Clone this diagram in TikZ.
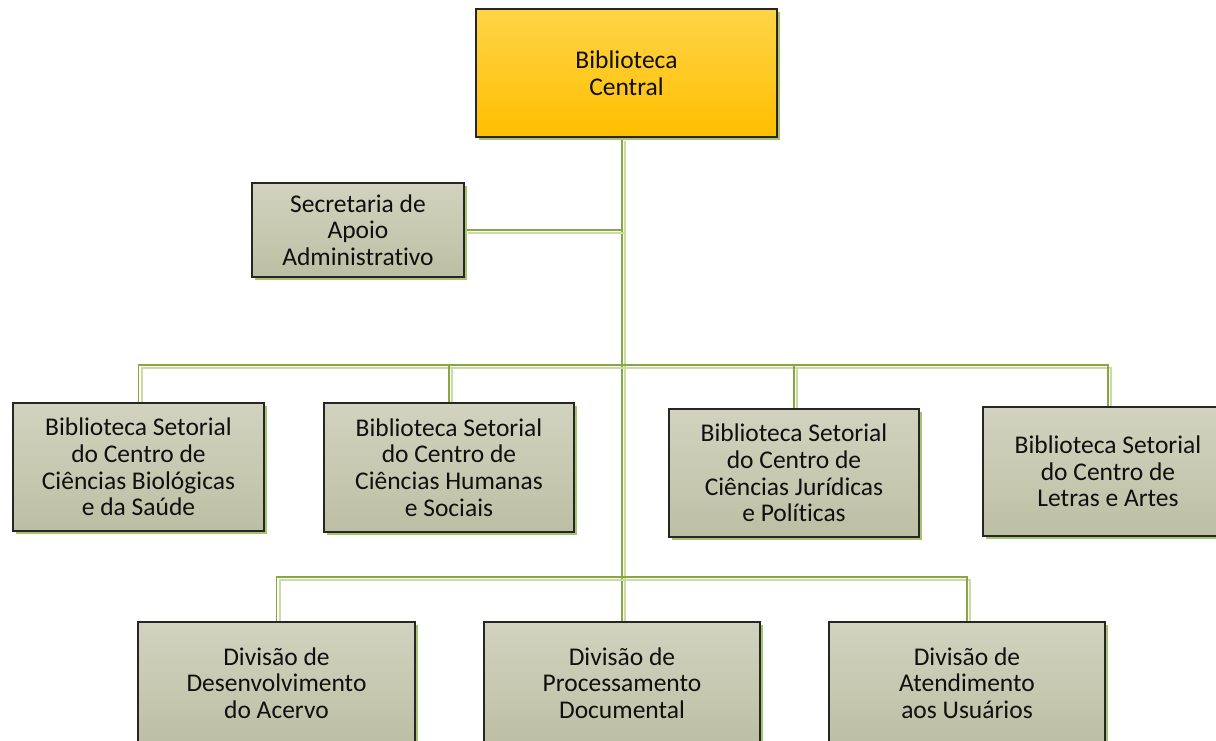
\documentclass[tikz,border=0pt]{standalone}
\usepackage{fontspec}
\setmainfont[Ligatures=NoCommon]{Carlito}
\usetikzlibrary{shadows,backgrounds}
\definecolor{conndark}{HTML}{86A93F}
\definecolor{connlight}{HTML}{CADCA4}
\definecolor{boxsh}{HTML}{A6C46E}
\definecolor{boxtop}{HTML}{D1D3BF}
\definecolor{boxbot}{HTML}{BDBFA4}
\definecolor{centtop}{HTML}{FFD448}
\definecolor{centbot}{HTML}{FFBF00}
\definecolor{txt}{HTML}{101010}
\tikzset{
  unit/.style={draw=black!85, line width=1.1pt, align=center, text=txt,
    font=\fontsize{25.5pt}{26.6pt}\selectfont, inner sep=0pt,
    top color=boxtop, bottom color=boxbot,
    drop shadow={shadow xshift=3pt, shadow yshift=-3pt, fill=boxsh, opacity=1}},
  central/.style={unit, top color=centtop, bottom color=centbot},
  conndark/.style={draw=conndark, line width=1.4pt},
  connlight/.style={draw=connlight, line width=2pt}
}
\newcommand\orgline[1]{%
  \begin{scope}[transform canvas={shift={(3pt,-3pt)}}]\draw[connlight] #1;\end{scope}%
  \draw[conndark] #1;}
\begin{document}
\begin{tikzpicture}[x=1pt,y=-1pt]
\useasboundingbox (0,0) rectangle (1216,741);
\node[central, minimum width=301pt, minimum height=128pt] (cent) at (626.5,73) {Biblioteca\\Central};
\node[unit, minimum width=212pt, minimum height=94pt] (sec) at (358,230) {Secretaria de\\Apoio\\Administrativo};
\node[unit, minimum width=251pt, minimum height=128pt] (b1) at (138.5,467) {Biblioteca Setorial\\do Centro de\\Ciências Biológicas\\e da Saúde};
\node[unit, minimum width=250pt, minimum height=129pt] (b2) at (449,467.5) {Biblioteca Setorial\\do Centro de\\Ciências Humanas\\e Sociais};
\node[unit, minimum width=250pt, minimum height=128pt] (b3) at (794,473) {Biblioteca Setorial\\do Centro de\\Ciências Jurídicas\\e Políticas};
\node[unit, minimum width=250pt, minimum height=129pt] (b4) at (1108,471.5) {Biblioteca Setorial\\do Centro de\\Letras e Artes};
\node[unit, minimum width=277pt, minimum height=122pt] (d1) at (276.5,683) {Divisão de\\Desenvolvimento\\do Acervo};
\node[unit, minimum width=276pt, minimum height=122pt] (d2) at (622,683) {Divisão de\\Processamento\\Documental};
\node[unit, minimum width=276pt, minimum height=122pt] (d3) at (967,683) {Divisão de\\Atendimento\\aos Usuários};
\coordinate (bus2) at (622,365);
\coordinate (bus3) at (622,577);
\begin{pgfonlayer}{background}
\orgline{(cent.south -| d2.north) -- (d2.north)}
\orgline{(sec.east) -- (sec.east -| d2.north)}
\orgline{(b1.north) -- (b1.north |- bus2) -- (b4.north |- bus2) -- (b4.north)}
\orgline{(b2.north) -- (b2.north |- bus2)}
\orgline{(b3.north) -- (b3.north |- bus2)}
\orgline{(d1.north) -- (d1.north |- bus3) -- (d3.north |- bus3) -- (d3.north)}
\end{pgfonlayer}
\end{tikzpicture}
\end{document}
